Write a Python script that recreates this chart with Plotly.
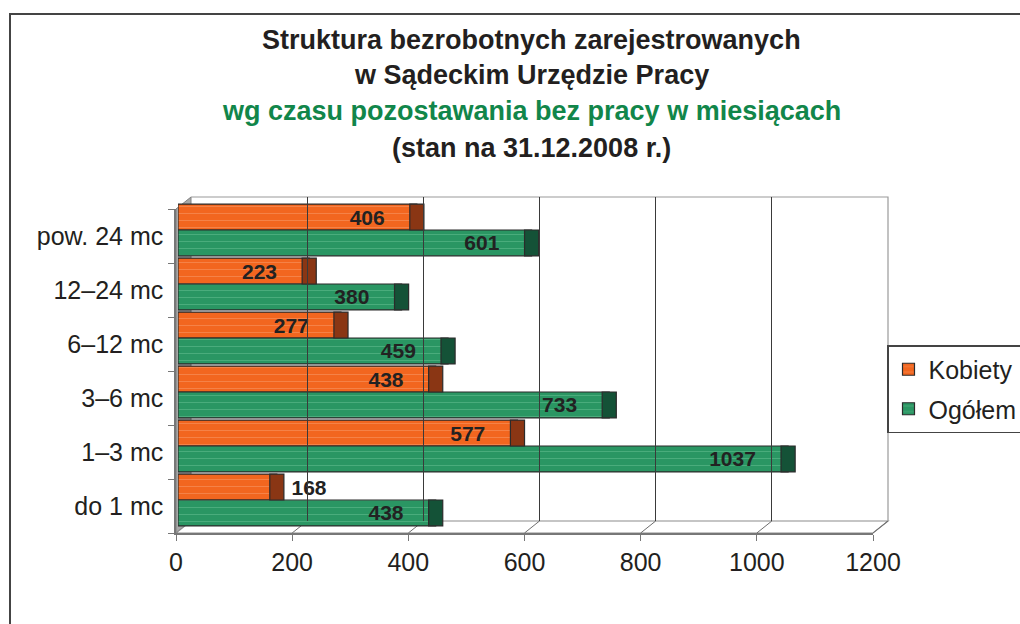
import plotly.graph_objects as go

# ---------------- data ----------------
categories = ["pow. 24 mc", "12–24 mc", "6–12 mc", "3–6 mc", "1–3 mc", "do 1 mc"]
kobiety = [406, 223, 277, 438, 577, 168]
ogolem = [601, 380, 459, 733, 1037, 438]
x_ticks = [0, 200, 400, 600, 800, 1000, 1200]
series_names = ["Kobiety", "Ogółem"]
title_lines = [
    "Struktura bezrobotnych zarejestrowanych",
    "w Sądeckim Urzędzie Pracy",
    "wg czasu pozostawania bez pracy w miesiącach",
    "(stan na 31.12.2008 r.)",
]

# ---------------- geometry / style ----------------
W, H = 1020, 624
FONT = "Liberation Sans, Arial, sans-serif"
def px(x): return x / W
def py(y): return 1 - y / H

# front plane (axis labels), back wall (grid), bars (mid depth)
FX0, FX1, FY0, FY1 = 176, 873, 209, 533
BX0, BX1, BY0, BY1 = 191, 888, 197, 521
RX0, RX1, RY0, RY1 = 178, 884, 203, 527
XMAX = 1200
CAP = 24  # cylinder end-cap width in data units

ORANGE, ORANGE_CAP, ORANGE_HI = "#F2661F", "#8A3614", "#F9A070"
GREEN, GREEN_CAP, GREEN_HI = "#2A9663", "#145237", "#6CC597"

fig = go.Figure()

def body(vals, name, color, hi, og, tpl, tpos):
    return go.Bar(
        y=categories, x=vals, orientation="h", name=name,
        xaxis="x2", yaxis="y2", offsetgroup=og, legendgroup=og,
        marker=dict(color=color, line=dict(color="#2b2b2b", width=1.2),
                    pattern=dict(shape="-", fgcolor=hi, fillmode="overlay",
                                 size=7, solidity=0.14)),
        texttemplate=tpl, textposition=tpos, insidetextanchor="end",
        constraintext="none", cliponaxis=False,
        textfont=dict(family=FONT, size=21, color="#222222", weight="bold"),
        insidetextfont=dict(family=FONT, size=21, color="#222222", weight="bold"),
        outsidetextfont=dict(family=FONT, size=21, color="#222222", weight="bold"),
        hoverinfo="skip",
    )

def cap(vals, color, og):
    return go.Bar(
        y=categories, x=[CAP] * len(vals), base=[v - CAP / 2 for v in vals],
        orientation="h", xaxis="x2", yaxis="y2", offsetgroup=og, legendgroup=og,
        marker=dict(color=color, line=dict(color="#2b2b2b", width=1.2)),
        showlegend=False, hoverinfo="skip",
    )

nb = "\u00a0"
tpl_k = [f"<b>%{{x}}</b>{nb*5}"] * (len(kobiety) - 1) + [f"{nb*2}<b>%{{x}}</b>"]
pos_k = ["inside"] * (len(kobiety) - 1) + ["outside"]
tpl_o = [f"<b>%{{x}}</b>{nb*5}"] * len(ogolem)
pos_o = ["inside"] * len(ogolem)

fig.add_trace(body(kobiety, series_names[0], ORANGE, ORANGE_HI, "k", tpl_k, pos_k))
fig.add_trace(body(ogolem, series_names[1], GREEN, GREEN_HI, "o", tpl_o, pos_o))
fig.add_trace(cap(kobiety, ORANGE_CAP, "k"))
fig.add_trace(cap(ogolem, GREEN_CAP, "o"))

# empty traces so the front axes and back-wall axes exist
fig.add_trace(go.Scatter(x=[None], y=[None], xaxis="x", yaxis="y", showlegend=False, hoverinfo="skip"))
fig.add_trace(go.Scatter(x=[None], y=[None], xaxis="x3", yaxis="y3", showlegend=False, hoverinfo="skip"))

# ---------------- decoration shapes (3D box) ----------------
ppu = (FX1 - FX0) / XMAX
shapes = []
def P(x, y): return f"{px(x)},{py(y)}"
# outer frame
shapes.append(dict(type="rect", xref="paper", yref="paper", x0=px(10), y0=py(14), x1=px(1030), y1=py(640),
                   line=dict(color="#444444", width=2), fillcolor="rgba(0,0,0,0)", layer="below"))
# left wall
shapes.append(dict(type="path", xref="paper", yref="paper",
                   path=f"M{P(FX0,FY0)} L{P(BX0,BY0)} L{P(BX0,BY1)} L{P(FX0,FY1)} Z",
                   fillcolor="#A8A8A8", line=dict(color="#808080", width=1), layer="below"))
# floor
shapes.append(dict(type="path", xref="paper", yref="paper",
                   path=f"M{P(FX0,FY1)} L{P(BX0,BY1)} L{P(BX1,BY1)} L{P(FX1,FY1)} Z",
                   fillcolor="#FFFFFF", line=dict(color="#8C8C8C", width=1.2), layer="below"))
# back wall outline (top, right)
shapes.append(dict(type="path", xref="paper", yref="paper",
                   path=f"M{P(BX0,BY0)} L{P(BX1,BY0)} L{P(BX1,BY1)}",
                   line=dict(color="#9A9A9A", width=1.2), layer="below"))
# floor diagonals at each tick
for t in x_ticks[1:]:
    fx = FX0 + t * ppu
    bx = BX0 + t * ppu
    shapes.append(dict(type="line", xref="paper", yref="paper",
                       x0=px(fx), y0=py(FY1), x1=px(bx), y1=py(BY1),
                       line=dict(color="#6E6E6E", width=1), layer="below"))

# ---------------- title ----------------
annotations = []
title_y = [40, 75, 111, 148]
for i, (txt, yy) in enumerate(zip(title_lines, title_y)):
    annotations.append(dict(
        text=f"<b>{txt}</b>", x=px(531), y=py(yy), xref="paper", yref="paper",
        showarrow=False, xanchor="center", yanchor="middle",
        font=dict(family=FONT, size=27, color="#11864A" if i == 2 else "#231F20"),
    ))

fig.update_layout(
    width=W, height=H, autosize=False,
    margin=dict(l=0, r=0, t=0, b=0, pad=0, autoexpand=False),
    paper_bgcolor="white", plot_bgcolor="rgba(0,0,0,0)",
    barmode="group", bargap=0.04, bargroupgap=0.0,
    font=dict(family=FONT, color="#231F20"),
    shapes=shapes, annotations=annotations,
    showlegend=True,
    legend=dict(x=px(887), y=py(345), xanchor="left", yanchor="top",
                xref="paper", yref="paper",
                bgcolor="white", bordercolor="#444444", borderwidth=1.5,
                font=dict(family=FONT, size=25, color="#231F20"),
                tracegroupgap=4, traceorder="grouped", itemwidth=30),
    # front plane: tick labels and category labels
    xaxis=dict(domain=[px(FX0), px(FX1)], range=[0, XMAX], anchor="y",
               tickvals=x_ticks, ticks="outside", ticklen=6, tickcolor="#777777",
               showline=True, linecolor="#777777", linewidth=1.5,
               showgrid=False, zeroline=False, ticklabelstandoff=0,
               tickfont=dict(family=FONT, size=25, color="#231F20")),
    yaxis=dict(domain=[py(FY1), py(FY0)], range=[len(categories) - 0.5, -0.5], anchor="x",
               tickvals=list(range(len(categories))), ticktext=categories,
               ticks="", showline=True, linecolor="#777777", linewidth=1.5,
               minor=dict(tickvals=[i - 0.5 for i in range(len(categories) + 1)],
                          ticks="outside", ticklen=6, tickcolor="#777777", showgrid=False),
               showgrid=False, zeroline=False, ticklabelstandoff=6,
               tickfont=dict(family=FONT, size=25, color="#231F20")),
    # bars (mid depth)
    xaxis2=dict(domain=[px(RX0), px(RX1)], range=[0, XMAX], anchor="y2",
                visible=False, showgrid=False, zeroline=False),
    yaxis2=dict(domain=[py(RY1), py(RY0)], anchor="x2", type="category",
                categoryorder="array", categoryarray=categories, autorange="reversed",
                visible=False, showgrid=False, zeroline=False),
    # back wall grid
    xaxis3=dict(domain=[px(BX0), px(BX1)], range=[0, XMAX], anchor="y3",
                tickvals=x_ticks[1:-1], showticklabels=False, ticks="",
                showgrid=True, gridcolor="#3A3A3A", gridwidth=1,
                showline=False, zeroline=False),
    yaxis3=dict(domain=[py(BY1), py(BY0)], range=[0, 1], anchor="x3",
                showticklabels=False, showgrid=False, zeroline=False, showline=False),
)

fig.write_html("out.html", config={"displayModeBar": False},
               post_script="document.body.style.margin='0';")
